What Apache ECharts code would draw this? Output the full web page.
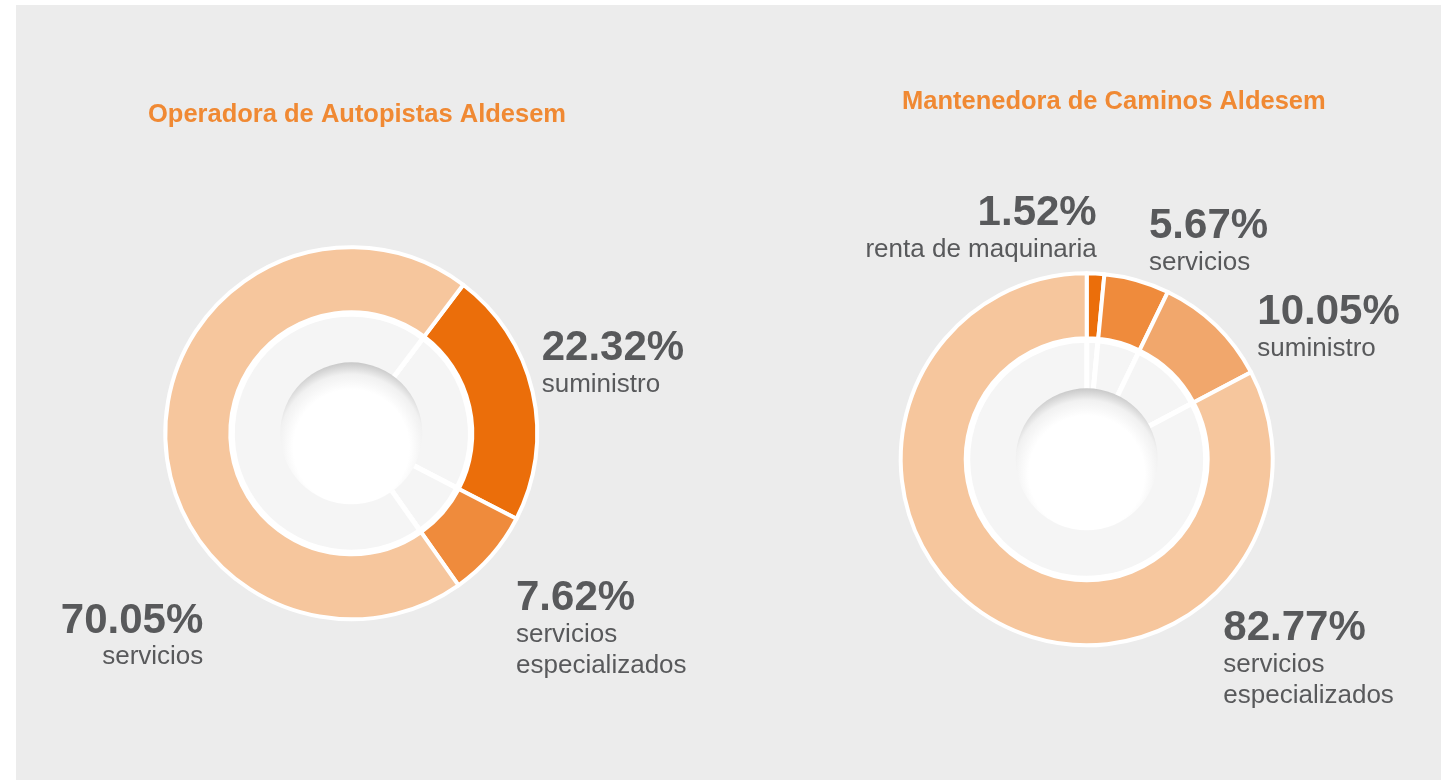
<!DOCTYPE html>
<html>
<head>
<meta charset="utf-8">
<script src="https://cdn.jsdelivr.net/npm/echarts@6/dist/echarts.min.js"></script>
<style>
  html, body { margin: 0; padding: 0; background: #ffffff; width: 1441px; height: 780px; overflow: hidden; }
  #chart { position: absolute; left: 16px; top: 5px; width: 1425px; height: 775px; }
</style>
</head>
<body>
<div id="chart"></div>
<script>
// ---- data ----
const chartTitles = ['Operadora de Autopistas Aldesem', 'Mantenedora de Caminos Aldesem'];
const leftCategories = ['suministro', 'servicios especializados', 'servicios'];
const leftValues = [22.32, 7.62, 70.05];
const rightCategories = ['renta de maquinaria', 'servicios', 'suministro', 'servicios especializados'];
const rightValues = [1.52, 5.67, 10.05, 82.77];

// ---- style / layout ----
const FONT = 'Liberation Sans, Arial, Helvetica, sans-serif';
const TEXT_COLOR = '#58595b';
const TITLE_COLOR = '#f08933';
const leftColors = ['#eb6e0a', '#ef8b3c', '#f6c69d'];
const rightColors = ['#eb6e0a', '#ef8b3c', '#f1a76c', '#f6c69d'];
const leftCenter = [335.3, 428.3];
const rightCenter = [1070.7, 454.3];
const leftStart = 53;
const rightStart = 90;
// label anchor offsets from pie center: [dx, dy of big-number baseline, align]
const leftLabelPos = [[190.4, -74, 'left'], [164.7, 176, 'left'], [-148, 198.4, 'right']];
const rightLabelPos = [[10, -235, 'right'], [62.3, -222, 'left'], [170.6, -136, 'left'], [136.6, 180, 'left']];

function toData(cats, vals, colors) {
  return cats.map((c, i) => ({ name: c, value: vals[i], itemStyle: { color: colors[i] } }));
}

function labelFormatter(p) {
  const lines = p.name === 'servicios especializados' ? ['servicios', 'especializados'] : [p.name];
  return '{big|' + p.value.toFixed(2) + '%}\n' + lines.map(l => '{small|' + l + '}').join('\n');
}

function makeLayout(center, posArr) {
  return function (params) {
    const pos = posArr[params.dataIndex];
    return {
      x: center[0] + pos[0],
      y: center[1] + pos[1] - 30.5,
      align: pos[2],
      verticalAlign: 'top'
    };
  };
}

function pieSet(center, cats, vals, colors, start, posArr) {
  return [
    {
      type: 'pie',
      center: center,
      radius: [121, 186],
      startAngle: start,
      clockwise: true,
      silent: true,
      animation: false,
      avoidLabelOverlap: false,
      itemStyle: { borderColor: '#ffffff', borderWidth: 4 },
      label: {
        show: true,
        position: 'outside',
        formatter: labelFormatter,
        rich: {
          big: { fontFamily: FONT, fontSize: 42, fontWeight: 'bold', color: TEXT_COLOR, lineHeight: 40 },
          small: { fontFamily: FONT, fontSize: 26, color: TEXT_COLOR, lineHeight: 31.5 }
        }
      },
      labelLine: { show: false },
      labelLayout: makeLayout(center, posArr),
      emphasis: { disabled: true },
      data: toData(cats, vals, colors)
    },
    {
      type: 'pie',
      center: center,
      radius: [0, 119],
      startAngle: start,
      clockwise: true,
      silent: true,
      animation: false,
      itemStyle: { color: '#f5f5f5', borderColor: '#ffffff', borderWidth: 5 },
      label: { show: false },
      labelLine: { show: false },
      emphasis: { disabled: true },
      data: cats.map((c, i) => ({ name: c, value: vals[i] }))
    },
    {
      type: 'pie',
      center: center,
      radius: [0, 71],
      silent: true,
      animation: false,
      itemStyle: {
        borderWidth: 0,
        color: {
          type: 'radial', x: 0.5, y: 0.6, r: 0.6,
          colorStops: [
            { offset: 0, color: '#ffffff' },
            { offset: 0.68, color: '#ffffff' },
            { offset: 0.86, color: '#f1f1f1' },
            { offset: 1, color: '#c8c8c8' }
          ]
        }
      },
      label: { show: false },
      labelLine: { show: false },
      emphasis: { disabled: true },
      data: [{ name: 'centro', value: 1 }]
    }
  ];
}

const chart = echarts.init(document.getElementById('chart'), null, { renderer: 'canvas' });
chart.setOption({
  backgroundColor: '#ececec',
  animation: false,
  title: [
    { text: chartTitles[0], left: 132, top: 96.5, padding: 0,
      textStyle: { fontFamily: FONT, fontSize: 25.5, fontWeight: 'bold', color: TITLE_COLOR } },
    { text: chartTitles[1], left: 886, top: 83.5, padding: 0,
      textStyle: { fontFamily: FONT, fontSize: 25.5, fontWeight: 'bold', color: TITLE_COLOR } }
  ],
  series: [].concat(
    pieSet(leftCenter, leftCategories, leftValues, leftColors, leftStart, leftLabelPos),
    pieSet(rightCenter, rightCategories, rightValues, rightColors, rightStart, rightLabelPos)
  )
});
</script>
</body>
</html>
